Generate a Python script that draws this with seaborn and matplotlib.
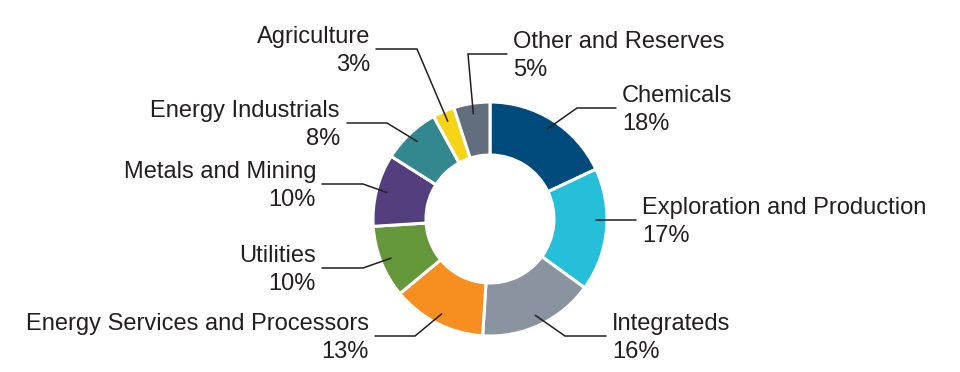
import numpy as np
import matplotlib
matplotlib.use("Agg")
import matplotlib.pyplot as plt
import seaborn as sns

# data
sectors = ["Chemicals", "Exploration and Production", "Integrateds",
           "Energy Services and Processors", "Utilities", "Metals and Mining",
           "Energy Industrials", "Agriculture", "Other and Reserves"]
shares = [18, 17, 16, 13, 10, 10, 8, 3, 5]
colors = ["#004b7b", "#26bfda", "#8a939f", "#f68f1f", "#63973a",
          "#533f7d", "#33878f", "#f7d417", "#626e7d"]

# label layout in pixel coords (x, y from top): text anchor, elbow, line end
label_pos = [(622, 108), (642, 220), (612, 336), (369, 336), (316, 268),
             (316, 184), (340, 123), (370, 49), (513, 54)]
elbows = [(577, 108), None, (565, 336), (415, 336), (363, 268),
          (363, 184), (387, 123), (417, 49), (468, 54)]
line_ends = [(616, 108), (636, 220), (606, 336), (375, 336), (322, 268),
             (322, 184), (347, 123), (376, 49), (507, 54)]

W, H = 960, 372
sns.set_theme(style="white")
plt.rcParams["font.family"] = ["Liberation Sans", "DejaVu Sans"]

fig = plt.figure(figsize=(9.6, 3.72), dpi=100)
ax = fig.add_axes([0, 0, 1, 1])

cx, cy, R = 490, H - 219, 117
wedges, _ = ax.pie(shares, colors=colors, startangle=90, counterclock=False,
                   radius=R, center=(cx, cy),
                   wedgeprops=dict(width=53, edgecolor="white", linewidth=2.2))

ax.set_xlim(0, W)
ax.set_ylim(0, H)
ax.set_aspect("equal")
ax.axis("off")

txt_col = "#231f20"
for i, w in enumerate(wedges):
    ang = np.deg2rad((w.theta1 + w.theta2) / 2)
    sx = cx + 0.91 * R * np.cos(ang)
    sy = cy + 0.91 * R * np.sin(ang)
    lx, ly = line_ends[i]
    if elbows[i] is None:
        xs, ys = [sx, lx], [H - ly, H - ly]
    else:
        ex, ey = elbows[i]
        xs, ys = [sx, ex, lx], [sy, H - ey, H - ly]
    ax.plot(xs, ys, color=txt_col, lw=1.1, solid_joinstyle="miter")
    tx, ty = label_pos[i]
    ha = "left" if tx > cx else "right"
    ax.text(tx, H - ty - 2, f"{sectors[i]}\n{shares[i]}%", ha=ha, va="center",
            multialignment=ha, fontsize=17, color=txt_col, linespacing=1.37)

fig.savefig("out.png", dpi=100)
